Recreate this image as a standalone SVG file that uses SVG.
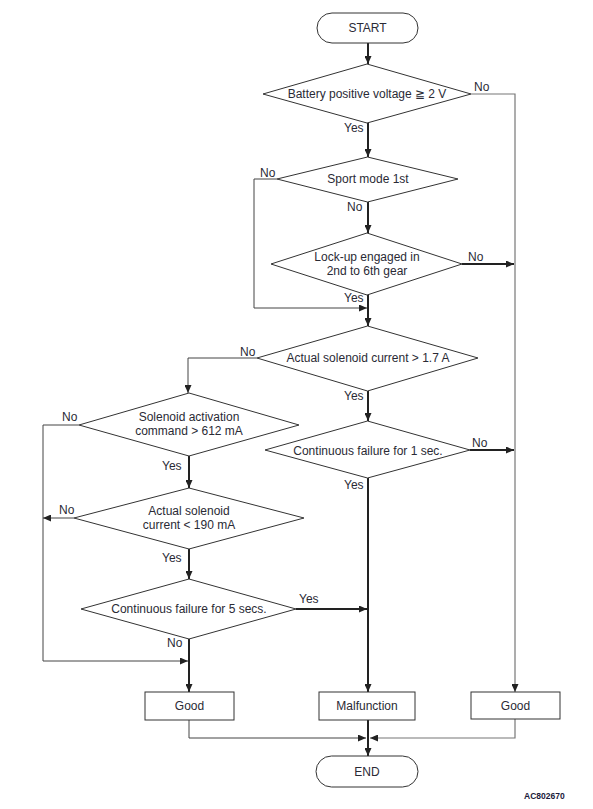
<svg xmlns="http://www.w3.org/2000/svg" width="593" height="809" viewBox="0 0 593 809">
<style>
  .shape { fill: #fff; stroke: #333; stroke-width: 1; }
  .t { font-family: "Liberation Sans", Arial, sans-serif; font-size: 12px; fill: #2a2a35; text-anchor: middle; }
  .lbl { font-family: "Liberation Sans", Arial, sans-serif; font-size: 12px; fill: #2a2a35; }
  .thick { fill: none; stroke: #222; stroke-width: 2; }
  .thin { fill: none; stroke: #444; stroke-width: 1; }
  .gray { fill: none; stroke: #777; stroke-width: 1.2; }
  .code { font-family: "Liberation Sans", Arial, sans-serif; font-size: 8.5px; font-weight: bold; fill: #1a1a3a; }
</style>
<defs>
  <marker id="ah" markerUnits="userSpaceOnUse" markerWidth="8" markerHeight="7" refX="8" refY="3.5" orient="auto">
    <path d="M0,0 L8,3.5 L0,7 z" fill="#222"/>
  </marker>
</defs>
<rect width="593" height="809" fill="#fff"/>

<g id="connectors">
  <line class="thick" x1="368" y1="43" x2="368" y2="64" marker-end="url(#ah)"/>
  <line class="thick" x1="368" y1="123" x2="368" y2="157" marker-end="url(#ah)"/>
  <polyline class="gray" points="471,94 515,94 515,692" marker-end="url(#ah)"/>
  <line class="thick" x1="368" y1="202" x2="368" y2="233" marker-end="url(#ah)"/>
  <polyline class="thin" points="277,179 254,179 254,308 367,308" marker-end="url(#ah)"/>
  <line class="thick" x1="368" y1="295" x2="368" y2="326" marker-end="url(#ah)"/>
  <line class="thick" x1="462" y1="264" x2="514" y2="264" marker-end="url(#ah)"/>
  <line class="thick" x1="368" y1="391" x2="368" y2="421" marker-end="url(#ah)"/>
  <polyline class="thin" points="257,358 188,358 188,393" marker-end="url(#ah)"/>
  <line class="thick" x1="470" y1="450" x2="514" y2="450" marker-end="url(#ah)"/>
  <line class="thick" x1="368" y1="478" x2="368" y2="692" marker-end="url(#ah)"/>
  <line class="thick" x1="189" y1="456" x2="189" y2="488" marker-end="url(#ah)"/>
  <polyline class="thin" points="79,425 43,425 43,661 188,661" marker-end="url(#ah)"/>
  <line class="thin" x1="74" y1="518" x2="43" y2="518" marker-end="url(#ah)"/>
  <line class="thick" x1="189" y1="549" x2="189" y2="579" marker-end="url(#ah)"/>
  <line class="thick" x1="296" y1="609" x2="367" y2="609" marker-end="url(#ah)"/>
  <line class="thick" x1="189" y1="639" x2="189" y2="692" marker-end="url(#ah)"/>
  <polyline class="thin" points="189,720 189,738 366,738" marker-end="url(#ah)"/>
  <polyline class="gray" points="515,719 515,738 370,738" marker-end="url(#ah)"/>
  <line class="thick" x1="368" y1="720" x2="368" y2="756" marker-end="url(#ah)"/>
</g>

<g id="start">
  <rect class="shape" x="317" y="13" width="101" height="30" rx="15" ry="15"/>
  <text class="t" x="367.5" y="32">START</text>
</g>

<g id="d1">
  <polygon class="shape" points="367,64 471,94 367,123 263,94"/>
  <text class="t" x="367" y="98">Battery positive voltage ≧ 2 V</text>
</g>
<g id="d2">
  <polygon class="shape" points="367.5,157 458,179 367.5,202 277,179"/>
  <text class="t" x="368" y="183">Sport mode 1st</text>
</g>
<g id="d3">
  <polygon class="shape" points="367,233 462,264 367,295 271,264"/>
  <text class="t" x="367" y="261">Lock-up engaged in</text>
  <text class="t" x="367" y="275">2nd to 6th gear</text>
</g>
<g id="d4">
  <polygon class="shape" points="367.5,326 478,358 367.5,391 257,358"/>
  <text class="t" x="368" y="362">Actual solenoid current &gt; 1.7 A</text>
</g>
<g id="d6">
  <polygon class="shape" points="367.5,421 470,450 367.5,478 265,450"/>
  <text class="t" x="368" y="455">Continuous failure for 1 sec.</text>
</g>
<g id="d5">
  <polygon class="shape" points="189,393 299,425 189,456 79,425"/>
  <text class="t" x="189" y="421">Solenoid activation</text>
  <text class="t" x="189" y="435">command &gt; 612 mA</text>
</g>
<g id="d7">
  <polygon class="shape" points="189,488 304,518 189,549 74,518"/>
  <text class="t" x="189" y="515">Actual solenoid</text>
  <text class="t" x="189" y="529">current &lt; 190 mA</text>
</g>
<g id="d8">
  <polygon class="shape" points="189,579 296,609 189,639 81,609"/>
  <text class="t" x="189" y="613">Continuous failure for 5 secs.</text>
</g>

<g id="good-left">
  <rect class="shape" x="145" y="692" width="89" height="28"/>
  <text class="t" x="189.5" y="710">Good</text>
</g>
<g id="malfunction">
  <rect class="shape" x="319" y="692" width="96" height="28"/>
  <text class="t" x="367" y="710">Malfunction</text>
</g>
<g id="good-right">
  <rect class="shape" x="471" y="692" width="89" height="27"/>
  <text class="t" x="515.5" y="710">Good</text>
</g>
<g id="end">
  <rect class="shape" x="316" y="756" width="102" height="31" rx="15.5" ry="15.5"/>
  <text class="t" x="367" y="776">END</text>
</g>

<g id="labels">
  <text class="lbl" x="474" y="91">No</text>
  <text class="lbl" x="344" y="132">Yes</text>
  <text class="lbl" x="260" y="177">No</text>
  <text class="lbl" x="347" y="211">No</text>
  <text class="lbl" x="468" y="261">No</text>
  <text class="lbl" x="344" y="302">Yes</text>
  <text class="lbl" x="240" y="356">No</text>
  <text class="lbl" x="344" y="400">Yes</text>
  <text class="lbl" x="472" y="447">No</text>
  <text class="lbl" x="344" y="489">Yes</text>
  <text class="lbl" x="62" y="421">No</text>
  <text class="lbl" x="162" y="470">Yes</text>
  <text class="lbl" x="59" y="514">No</text>
  <text class="lbl" x="162" y="562">Yes</text>
  <text class="lbl" x="299" y="603">Yes</text>
  <text class="lbl" x="167" y="647">No</text>
  <text class="code" x="524" y="799">AC802670</text>
</g>
</svg>
